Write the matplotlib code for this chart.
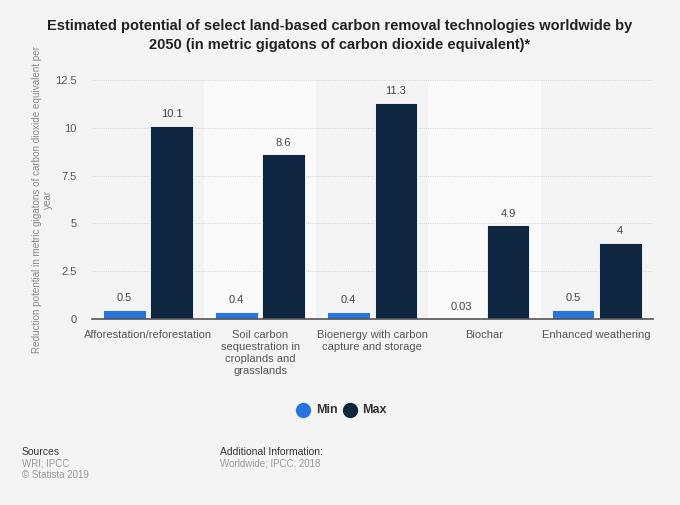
import matplotlib.pyplot as plt
import numpy as np

plt.rcParams['font.family'] = ['Liberation Sans', 'DejaVu Sans']

categories = ["Afforestation/reforestation",
              "Soil carbon\nsequestration in\ncroplands and\ngrasslands",
              "Bioenergy with carbon\ncapture and storage",
              "Biochar",
              "Enhanced weathering"]
min_vals = [0.5, 0.4, 0.4, 0.03, 0.5]
max_vals = [10.1, 8.6, 11.3, 4.9, 4]
min_labels = ["0.5", "0.4", "0.4", "0.03", "0.5"]
max_labels = ["10.1", "8.6", "11.3", "4.9", "4"]
yticks = [0, 2.5, 5, 7.5, 10, 12.5]
ytick_labels = ["0", "2.5", "5", "7.5", "10", "12.5"]

bg = '#f4f4f4'
c_min = '#2876dd'
c_max = '#0f2641'

fig = plt.figure(figsize=(6.8, 5.05), dpi=100)
fig.patch.set_facecolor(bg)
ax = fig.add_axes([0.135, 0.368, 0.825, 0.474])
ax.set_facecolor(bg)

x = np.arange(len(categories))
w = 0.38
off = 0.21

# alternating bands
for i in x:
    if i % 2 == 1:
        ax.axvspan(i - 0.5, i + 0.5, color='#fafafa', zorder=0, lw=0)

ax.bar(x - off, min_vals, w, color=c_min, edgecolor='white', linewidth=0.6, zorder=3)
ax.bar(x + off, max_vals, w, color=c_max, edgecolor='white', linewidth=0.6, zorder=3)

for i in x:
    ax.text(i - off, min_vals[i] + 0.35, min_labels[i], ha='center', va='bottom',
            fontsize=8, color='#444444', zorder=4)
    ax.text(i + off, max_vals[i] + 0.35, max_labels[i], ha='center', va='bottom',
            fontsize=8, color='#444444', zorder=4)

ax.set_xlim(-0.5, len(categories) - 0.5)
ax.set_ylim(0, 12.5)
ax.set_yticks(yticks)
ax.set_yticklabels(ytick_labels)
ax.set_xticks(x)
ax.set_xticklabels(categories, fontsize=8, color='#555555', linespacing=1.25)
ax.tick_params(axis='y', length=0, labelsize=8, colors='#555555', pad=11)
ax.tick_params(axis='x', length=0, pad=8)
ax.yaxis.grid(True, color='#d8d8d8', linestyle=(0, (1, 1)), linewidth=0.8, zorder=1)
ax.set_axisbelow(True)
for s in ['top', 'right', 'left']:
    ax.spines[s].set_visible(False)
ax.spines['bottom'].set_color('#555555')
ax.spines['bottom'].set_linewidth(1.2)
ax.spines['bottom'].set_zorder(5)

ax.set_ylabel("Reduction potential in metric gigatons of carbon dioxide equivalent per\nyear",
              fontsize=7.1, color='#888888', linespacing=1.1)
ax.yaxis.set_label_coords(-0.07, 0.5)

fig.text(0.5, 0.962, "Estimated potential of select land-based carbon removal technologies worldwide by\n2050 (in metric gigatons of carbon dioxide equivalent)*",
         ha='center', va='top', fontsize=10.5, fontweight='bold', color='#222222', linespacing=1.45)

# legend
fig.lines.append(plt.Line2D([303 / 680], [1 - 410 / 505], marker='o', markersize=10,
                            color=c_min, linestyle='none', transform=fig.transFigure))
fig.text(316 / 680, 1 - 410 / 505, "Min", fontsize=9, fontweight='bold', color='#333333', va='center')
fig.lines.append(plt.Line2D([350 / 680], [1 - 410 / 505], marker='o', markersize=10,
                            color=c_max, linestyle='none', transform=fig.transFigure))
fig.text(362 / 680, 1 - 410 / 505, "Max", fontsize=9, fontweight='bold', color='#333333', va='center')

# footer
fig.text(22 / 680, 1 - 452 / 505, "Sources", fontsize=7.5, color='#333333', va='center')
fig.text(22 / 680, 1 - 464 / 505, "WRI; IPCC", fontsize=7, color='#999999', va='center')
fig.text(22 / 680, 1 - 475 / 505, "\u00a9 Statista 2019", fontsize=7, color='#999999', va='center')
fig.text(220 / 680, 1 - 452 / 505, "Additional Information:", fontsize=7.5, color='#333333', va='center')
fig.text(220 / 680, 1 - 464 / 505, "Worldwide; IPCC; 2018", fontsize=7, color='#999999', va='center')

fig.savefig("out.png", dpi=100, facecolor=bg)
